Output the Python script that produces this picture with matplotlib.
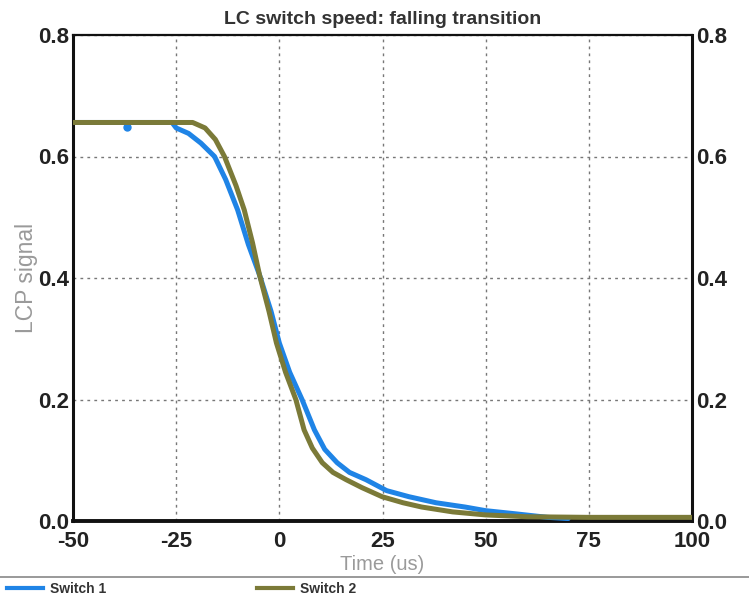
import matplotlib
matplotlib.use("Agg")
import matplotlib.pyplot as plt
from matplotlib.lines import Line2D

plt.rcParams['font.family'] = ['Liberation Sans', 'DejaVu Sans']

# Switch 1 (blue)
switch1_time = [-50, -26, -25, -22, -19, -15.7, -13, -10.1, -7.5, -4.8, -2, 0, 2.5, 5.5,
                8.5, 11, 14, 17, 21, 26, 31.4, 38, 45, 50, 57, 65, 70]
switch1_signal = [0.656, 0.656, 0.647, 0.638, 0.622, 0.6, 0.562, 0.512, 0.455, 0.405, 0.345,
                  0.293, 0.245, 0.2, 0.15, 0.118, 0.096, 0.08, 0.068, 0.05, 0.04, 0.03,
                  0.023, 0.017, 0.012, 0.006, 0.004]
switch1_outlier_time = [-37]
switch1_outlier_signal = [0.649]

# Switch 2 (olive)
switch2_time = [-50, -21, -18, -15.5, -13.3, -10.5, -8.5, -6.5, -4.8, -2.5, -0.7, 1.5, 4, 6,
                8, 10.4, 13, 16.2, 20, 24.9, 30, 34.5, 42, 50, 60, 75, 100]
switch2_signal = [0.656, 0.656, 0.647, 0.628, 0.6, 0.552, 0.512, 0.458, 0.405, 0.345, 0.293,
                  0.245, 0.2, 0.15, 0.12, 0.096, 0.08, 0.068, 0.055, 0.04, 0.03, 0.023,
                  0.015, 0.01, 0.007, 0.006, 0.006]

x_ticks = [-50, -25, 0, 25, 50, 75, 100]
y_ticks = [0.0, 0.2, 0.4, 0.6, 0.8]

blue = '#1f84e6'
olive = '#7b7a38'

fig = plt.figure(figsize=(7.49, 5.99), dpi=100)
ax = fig.add_axes([73/749, 1-521/599, (692-73)/749, (521-35)/599])

ax.plot(switch1_time, switch1_signal, color=blue, lw=3.6, solid_capstyle='round', zorder=3)
ax.plot(switch1_outlier_time, switch1_outlier_signal, 'o', color=blue, ms=5, zorder=3)
ax.plot(switch2_time, switch2_signal, color=olive, lw=3.6, solid_capstyle='round', zorder=4)

ax.set_xlim(-50, 100)
ax.set_ylim(0, 0.8)
ax.set_xticks(x_ticks)
ax.set_yticks(y_ticks)
ax.set_xticklabels([str(t) for t in x_ticks])
ax.set_yticklabels([f'{t:.1f}' for t in y_ticks])
ax.grid(True, color='#777777', lw=1.0, linestyle=(0, (2, 3)))
ax.set_axisbelow(True)

ax.tick_params(axis='both', length=0, labelsize=16, labelcolor='#222222')
ax.tick_params(axis='y', labelright=True, pad=3)
ax.tick_params(axis='x', pad=7)
for lab in ax.get_xticklabels() + ax.get_yticklabels():
    lab.set_fontweight('bold')
for t in ax.yaxis.get_major_ticks():
    t.label2.set_fontweight('bold')
    t.label2.set_fontsize(16)
    t.label2.set_color('#222222')

for side, w in [('left', 2.2), ('bottom', 2.8), ('top', 1.6), ('right', 2.2)]:
    ax.spines[side].set_linewidth(w)
    ax.spines[side].set_color('#111111')

ax.set_title('LC switch speed: falling transition', fontsize=14, fontweight='bold',
             color='#333333', pad=8)
ax.set_xlabel('Time (us)', fontsize=14.5, color='#9a9a9a', labelpad=2)
ax.set_ylabel('LCP signal', fontsize=16.5, color='#9a9a9a', labelpad=0)

# separator line and legend
fig.add_artist(Line2D([0, 1], [1-577/599, 1-577/599], transform=fig.transFigure,
                      color='#888888', lw=1.2))
handles = [Line2D([], [], color=blue, lw=3), Line2D([], [], color=olive, lw=3)]
leg = fig.legend(handles, ['Switch 1', 'Switch 2'], loc='center left',
                 bbox_to_anchor=(0.0, 1-589/599), ncol=2, frameon=False,
                 handlelength=2.6, handletextpad=0.5, columnspacing=10.85,
                 prop={'size': 10, 'weight': 'bold'}, borderaxespad=0, borderpad=0.5)
for t in leg.get_texts():
    t.set_color('#333333')

fig.savefig('out.png', dpi=100, facecolor='white')
